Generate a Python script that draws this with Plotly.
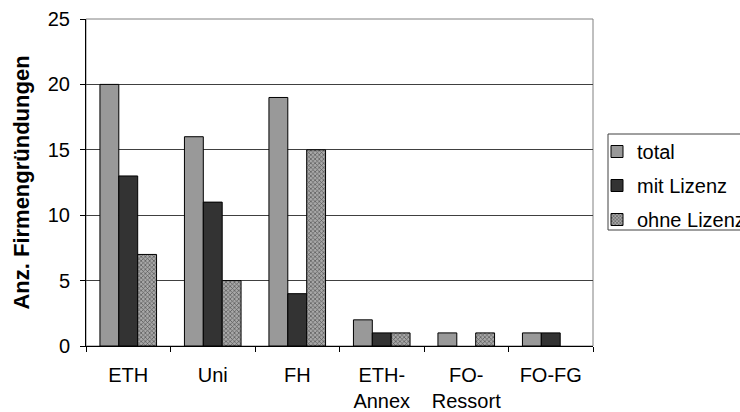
import plotly.graph_objects as go

categories = ["ETH", "Uni", "FH", "ETH-<br>Annex", "FO-<br>Ressort", "FO-FG"]
total = [20, 16, 19, 2, 1, 1]
mit_lizenz = [13, 11, 4, 1, 0, 1]
ohne_lizenz = [7, 5, 15, 1, 1, 0]

FAM = "Liberation Sans, Arial, sans-serif"
FS = 20
font = dict(family=FAM, size=FS, color="black")


def outline(vals):
    return [1 if v > 0 else 0 for v in vals]


fig = go.Figure()
fig.add_trace(go.Bar(name="total", x=categories, y=total, legendgroup="a",
                     marker=dict(color="#999999",
                                 line=dict(color="black", width=outline(total)))))
fig.add_trace(go.Bar(name="mit Lizenz", x=categories, y=mit_lizenz, legendgroup="b",
                     marker=dict(color="#333333",
                                 line=dict(color="black", width=outline(mit_lizenz)))))
fig.add_trace(go.Bar(name="ohne Lizenz", x=categories, y=ohne_lizenz, legendgroup="c",
                     marker=dict(color="#8a8a8a",
                                 line=dict(color="black", width=outline(ohne_lizenz)),
                                 pattern=dict(shape="x", size=3, solidity=0.4,
                                              fgcolor="#555555", bgcolor="#a8a8a8",
                                              fillmode="replace"))))

fig.update_layout(
    width=740, height=412,
    margin=dict(l=86, r=147, t=19, b=66, autoexpand=False),
    paper_bgcolor="white", plot_bgcolor="white",
    font=font,
    barmode="group", bargap=0.33, bargroupgap=0,
    showlegend=True,
    legend=dict(x=(597 - 86) / 507, y=(346 - 132) / 327, xanchor="left", yanchor="top",
                borderwidth=0, bgcolor="rgba(0,0,0,0)",
                font=dict(family=FAM, size=FS),
                itemwidth=30, tracegroupgap=5),
    xaxis=dict(showline=True, linecolor="black", linewidth=1,
               ticks="outside", ticklen=5, tickcolor="black",
               tickson="boundaries", showgrid=False, automargin=False,
               ticklabelstandoff=11),
    yaxis=dict(range=[0, 25], tickvals=[0, 5, 10, 15, 20, 25],
               showline=True, linecolor="black", linewidth=1,
               ticks="outside", ticklen=5, tickcolor="black",
               showgrid=True, gridcolor="#404040", gridwidth=1,
               zeroline=False, automargin=False, ticklabelstandoff=6,
               title=dict(text="<b>Anz. Firmengründungen</b>", standoff=12,
                          font=dict(family=FAM, size=22))),
)
# plot-area frame
fig.add_shape(type="rect", xref="paper", yref="paper", x0=0, y0=0, x1=1, y1=1,
              line=dict(color="#808080", width=1), layer="below")
# legend frame (extends past the right edge, as in the original)
fig.add_shape(type="rect", xref="paper", yref="paper",
              x0=(608 - 86) / 507, x1=(760 - 86) / 507,
              y0=(346 - 230) / 327, y1=(346 - 134) / 327,
              line=dict(color="#404040", width=1), fillcolor="white", layer="below")

fig.write_html("out.html", config={"displayModeBar": False},
               post_script="document.body.style.margin='0px';")
